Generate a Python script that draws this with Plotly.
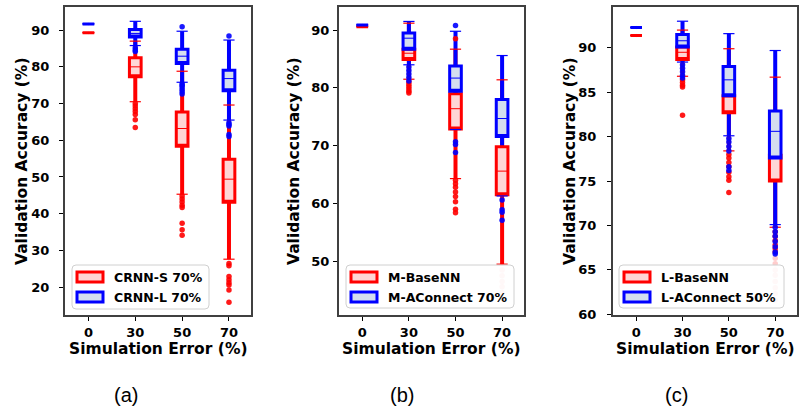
import plotly.graph_objects as go

CATS = ["0", "30", "50", "70"]

# ---- Panel (a) ----
A_RED_NAME = "CRNN-S 70%"
A_RED_Q1 = [89.3, 77.3, 58.4, 43.1]
A_RED_MED = [89.3, 80.0, 63.2, 49.4]
A_RED_Q3 = [89.3, 82.5, 67.7, 54.8]
A_RED_LO = [89.3, 70.5, 45.3, 27.6]
A_RED_HI = [89.3, 87.0, 78.8, 69.6]
A_RED_OUT_X = ["30"] * 7 + ["50"] * 8 + ["70"] * 8
A_RED_OUT_Y = [70.0, 69.3, 68.6, 67.8, 67.0, 65.6, 63.5,
               44.8, 44.0, 43.2, 42.3, 41.7, 37.4, 35.6, 34.1,
               26.4, 25.8, 22.9, 22.0, 21.2, 20.6, 19.2, 15.9]

A_BLUE_NAME = "CRNN-L 70%"
A_BLUE_Q1 = [91.7, 88.1, 80.9, 73.5]
A_BLUE_MED = [91.7, 89.1, 82.9, 76.8]
A_BLUE_Q3 = [91.7, 90.2, 84.8, 79.1]
A_BLUE_LO = [91.7, 85.8, 75.8, 65.5]
A_BLUE_HI = [91.7, 92.4, 89.7, 87.3]
A_BLUE_OUT_X = ["30"] * 3 + ["50"] * 7 + ["70"] * 6
A_BLUE_OUT_Y = [85.2, 84.6, 84.2,
                90.9, 75.4, 75.0, 74.5, 73.8, 73.2, 72.6,
                88.4, 64.8, 64.3, 63.9, 61.6, 61.0]

# ---- Panel (b) ----
B_RED_NAME = "M-BaseNN"
B_RED_Q1 = [90.6, 84.9, 72.9, 61.5]
B_RED_MED = [90.6, 86.0, 76.4, 65.6]
B_RED_Q3 = [90.6, 86.7, 79.0, 69.8]
B_RED_LO = [90.6, 81.5, 64.3, 49.5]
B_RED_HI = [90.6, 91.2, 86.7, 81.4]
B_RED_OUT_X = ["30"] * 6 + ["50"] * 9
B_RED_OUT_Y = [81.0, 80.6, 80.2, 79.8, 79.4, 79.1,
               88.5, 64.0, 63.4, 62.8, 62.0, 61.2, 60.3, 59.0, 58.4]
B_RED_FAINT_X = ["70"] * 6
B_RED_FAINT_Y = [48.5, 47.5, 46.5, 45.6, 44.6, 43.6]

B_BLUE_NAME = "M-AConnect 70%"
B_BLUE_Q1 = [90.9, 86.7, 79.4, 71.6]
B_BLUE_MED = [90.9, 88.6, 81.7, 74.7]
B_BLUE_Q3 = [90.9, 89.5, 83.8, 78.0]
B_BLUE_LO = [90.9, 84.0, 72.8, 61.3]
B_BLUE_HI = [90.9, 91.5, 89.8, 85.6]
B_BLUE_OUT_X = ["30"] * 5 + ["50"] * 4 + ["70"] * 4
B_BLUE_OUT_Y = [83.6, 83.0, 82.4, 81.8, 81.2,
                90.8, 70.7, 70.2, 68.8,
                60.6, 58.9, 58.5, 57.1]

# ---- Panel (c) ----
C_RED_NAME = "L-BaseNN"
C_RED_Q1 = [91.4, 88.7, 82.7, 75.0]
C_RED_MED = [91.4, 89.5, 84.5, 77.6]
C_RED_Q3 = [91.4, 90.1, 84.6, 77.9]
C_RED_LO = [91.4, 86.8, 78.4, 69.8]
C_RED_HI = [91.4, 92.0, 89.9, 86.7]
C_RED_OUT_X = ["30"] * 5 + ["50"] * 8 + ["70"] * 6
C_RED_OUT_Y = [86.4, 86.1, 85.8, 85.6, 82.4,
               78.0, 77.6, 77.1, 76.6, 76.0, 75.5, 75.1, 73.7,
               69.3, 68.8, 68.3, 67.8, 67.4, 67.0]
C_RED_FAINT_X = ["70"] * 8
C_RED_FAINT_Y = [66.3, 65.7, 65.0, 64.4, 63.7, 63.0, 62.3, 61.6]

C_BLUE_NAME = "L-AConnect 50%"
C_BLUE_Q1 = [92.3, 90.1, 84.6, 77.6]
C_BLUE_MED = [92.3, 90.8, 86.4, 80.6]
C_BLUE_Q3 = [92.3, 91.5, 87.9, 82.9]
C_BLUE_LO = [92.3, 88.4, 80.1, 70.1]
C_BLUE_HI = [92.3, 93.0, 91.6, 89.7]
C_BLUE_OUT_X = ["30"] * 5 + ["50"] * 6 + ["70"] * 7
C_BLUE_OUT_Y = [88.1, 87.7, 87.3, 86.9, 86.6,
                79.8, 79.4, 78.9, 78.4, 76.6, 76.2,
                69.8, 69.3, 68.8, 68.2, 67.6, 67.0, 66.8]

Y_TICKS_A = [20, 30, 40, 50, 60, 70, 80, 90]
Y_TICKS_B = [50, 60, 70, 80, 90]
Y_TICKS_C = [60, 65, 70, 75, 80, 85, 90]
Y_RANGES = [[12.4, 96.3], [40.7, 94.0], [59.92, 94.6]]
PANEL_LABELS = ["(a)", "(b)", "(c)"]
X_TITLE = "Simulation Error (%)"
Y_TITLE = "Validation Accuracy (%)"
LEGEND_NAMES = [(A_RED_NAME, A_BLUE_NAME), (B_RED_NAME, B_BLUE_NAME), (C_RED_NAME, C_BLUE_NAME)]

RED = "#ff0000"
RED_FILL = "#ffd6d6"
BLUE = "#0000ff"
BLUE_FILL = "#d5deef"

W, H = 800, 410
FONT = "DejaVu Sans"

fig = go.Figure()

SERIES = [
    # panel, color, fill, q1, med, q3, lo, hi, out_x, out_y, faint_x, faint_y
    (1, RED, RED_FILL, A_RED_Q1, A_RED_MED, A_RED_Q3, A_RED_LO, A_RED_HI, A_RED_OUT_X, A_RED_OUT_Y, None, None),
    (1, BLUE, BLUE_FILL, A_BLUE_Q1, A_BLUE_MED, A_BLUE_Q3, A_BLUE_LO, A_BLUE_HI, A_BLUE_OUT_X, A_BLUE_OUT_Y, None, None),
    (2, RED, RED_FILL, B_RED_Q1, B_RED_MED, B_RED_Q3, B_RED_LO, B_RED_HI, B_RED_OUT_X, B_RED_OUT_Y, B_RED_FAINT_X, B_RED_FAINT_Y),
    (2, BLUE, BLUE_FILL, B_BLUE_Q1, B_BLUE_MED, B_BLUE_Q3, B_BLUE_LO, B_BLUE_HI, B_BLUE_OUT_X, B_BLUE_OUT_Y, None, None),
    (3, RED, RED_FILL, C_RED_Q1, C_RED_MED, C_RED_Q3, C_RED_LO, C_RED_HI, C_RED_OUT_X, C_RED_OUT_Y, C_RED_FAINT_X, C_RED_FAINT_Y),
    (3, BLUE, BLUE_FILL, C_BLUE_Q1, C_BLUE_MED, C_BLUE_Q3, C_BLUE_LO, C_BLUE_HI, C_BLUE_OUT_X, C_BLUE_OUT_Y, None, None),
]


def axes(k):
    s = "" if k == 1 else str(k)
    return dict(xaxis="x" + s, yaxis="y" + s)


# 1) whiskers (full lower->upper fence line), red then blue
for (k, col, fill, q1, med, q3, lo, hi, ox, oy, fx, fy) in SERIES:
    fig.add_trace(go.Box(x=CATS, q1=lo, median=lo, q3=lo, lowerfence=lo, upperfence=hi,
                         width=0.001, whiskerwidth=0, line=dict(color=col, width=4),
                         fillcolor=col, boxpoints=False, hoverinfo="skip",
                         showlegend=False, **axes(k)))

# 2) boxes: red first, then blue on top; thick outline + thin median
for order in (RED, BLUE):
    for (k, col, fill, q1, med, q3, lo, hi, ox, oy, fx, fy) in SERIES:
        if col != order:
            continue
        fig.add_trace(go.Box(x=CATS, q1=q1, median=q1, q3=q3, lowerfence=q1, upperfence=q3,
                             width=0.25, whiskerwidth=0, line=dict(color=col, width=3),
                             fillcolor=fill, boxpoints=False, hoverinfo="skip",
                             showlegend=False, **axes(k)))
        fig.add_trace(go.Box(x=CATS, q1=q1, median=med, q3=q3, lowerfence=q1, upperfence=q3,
                             width=0.25, whiskerwidth=0, line=dict(color=col, width=1),
                             fillcolor="rgba(0,0,0,0)", boxpoints=False, hoverinfo="skip",
                             showlegend=False, **axes(k)))

# 3) whisker caps and outliers
for (k, col, fill, q1, med, q3, lo, hi, ox, oy, fx, fy) in SERIES:
    fig.add_trace(go.Scatter(x=CATS[1:] + CATS[1:], y=lo[1:] + hi[1:], mode="markers",
                             marker=dict(symbol="line-ew", size=8, color=col,
                                         line=dict(color=col, width=1.2)),
                             showlegend=False, hoverinfo="skip", **axes(k)))
    fig.add_trace(go.Scatter(x=ox, y=oy, mode="markers", showlegend=False,
                             marker=dict(color=col, size=5.5, opacity=0.9),
                             hoverinfo="skip", **axes(k)))
    if fx is not None:
        fig.add_trace(go.Scatter(x=fx, y=fy, mode="markers", showlegend=False,
                                 marker=dict(color=col, size=5.5, opacity=0.2),
                                 hoverinfo="skip", **axes(k)))

# pixel layout of the three plot areas
PLOT_X = [(65, 251), (339, 524), (613, 797)]
PLOT_Y = (7, 315)
YT_X = [22, 294, 570]
TICK_STANDOFF = [7, 1, 8]
LEG_BOX = [(72, 265, 209, 309), (346, 265, 514, 308), (619, 265, 784, 308)]
LABEL_X = [126, 402, 676]
Y_TICKS = [Y_TICKS_A, Y_TICKS_B, Y_TICKS_C]


def px(x):
    return x / W


def py(y):
    return 1 - y / H


def rounded_rect(x0, y0, x1, y1, r):
    X0, X1 = px(x0), px(x1)
    Y0, Y1 = py(y0), py(y1)
    rx, ry = r / W, r / H
    return (f"M{X0 + rx},{Y0} L{X1 - rx},{Y0} Q{X1},{Y0} {X1},{Y0 - ry} "
            f"L{X1},{Y1 + ry} Q{X1},{Y1} {X1 - rx},{Y1} L{X0 + rx},{Y1} "
            f"Q{X0},{Y1} {X0},{Y1 + ry} L{X0},{Y0 - ry} Q{X0},{Y0} {X0 + rx},{Y0} Z")


layout = dict(
    width=W, height=H, margin=dict(l=0, r=0, t=0, b=0, pad=0, autoexpand=False),
    paper_bgcolor="white", plot_bgcolor="white",
    boxmode="overlay", showlegend=False,
    font=dict(family=FONT, color="black"),
)
annotations = []
shapes = []
for i in range(3):
    suffix = "" if i == 0 else str(i + 1)
    x0, x1 = PLOT_X[i]
    y0, y1 = PLOT_Y
    axis_common = dict(showline=True, mirror=True, linecolor="#404040", linewidth=2,
                       showgrid=False, zeroline=False, ticks="outside", ticklen=4,
                       tickcolor="black", tickwidth=1, automargin=False,
                       tickfont=dict(family=FONT, size=13, color="black", weight="bold"))
    layout["xaxis" + suffix] = dict(domain=[x0 / W, x1 / W], anchor="y" + suffix,
                                    type="category", categoryorder="array",
                                    categoryarray=CATS, range=[-0.5, 3.47],
                                    **axis_common)
    layout["yaxis" + suffix] = dict(domain=[1 - y1 / H, 1 - y0 / H], anchor="x" + suffix,
                                    range=Y_RANGES[i], tickvals=Y_TICKS[i],
                                    ticklabelstandoff=TICK_STANDOFF[i],
                                    **axis_common)
    # manual legend
    lx0, ly0, lx1, ly1 = LEG_BOX[i]
    shapes.append(dict(type="path", xref="paper", yref="paper", layer="above",
                       path=rounded_rect(lx0, ly0, lx1, ly1, 4),
                       fillcolor="rgba(255,255,255,0.85)",
                       line=dict(color="#d0d0d0", width=1)))
    for j, (col, fill) in enumerate([(RED, RED_FILL), (BLUE, BLUE_FILL)]):
        cy = ly0 + 12 + j * 20
        shapes.append(dict(type="rect", xref="paper", yref="paper", layer="above",
                           x0=px(lx0 + 5), x1=px(lx0 + 31), y0=py(cy - 5), y1=py(cy + 5),
                           fillcolor=fill, line=dict(color=col, width=3)))
        annotations.append(dict(text=LEGEND_NAMES[i][j], x=px(lx0 + 40), y=py(cy),
                                xref="paper", yref="paper", xanchor="left", yanchor="middle",
                                showarrow=False,
                                font=dict(family=FONT, size=12.5, color="black", weight="bold")))
    annotations.append(dict(text=Y_TITLE, textangle=-90, x=YT_X[i] / W, y=1 - 161 / H,
                            xref="paper", yref="paper", xanchor="center", yanchor="middle",
                            showarrow=False,
                            font=dict(family=FONT, size=15.5, color="black", weight="bold")))
    annotations.append(dict(text=X_TITLE, x=(x0 + x1) / 2 / W, y=1 - 349 / H,
                            xref="paper", yref="paper", xanchor="center", yanchor="middle",
                            showarrow=False,
                            font=dict(family=FONT, size=15.5, color="black", weight="bold")))
    annotations.append(dict(text=PANEL_LABELS[i], x=LABEL_X[i] / W, y=1 - 395 / H,
                            xref="paper", yref="paper", xanchor="center", yanchor="middle",
                            showarrow=False,
                            font=dict(family="Liberation Sans", size=20, color="black")))
layout["annotations"] = annotations
layout["shapes"] = shapes
fig.update_layout(**layout)
fig.write_html("out.html", config={"displayModeBar": False},
               post_script="document.body.style.margin='0';document.body.style.overflow='hidden';")
